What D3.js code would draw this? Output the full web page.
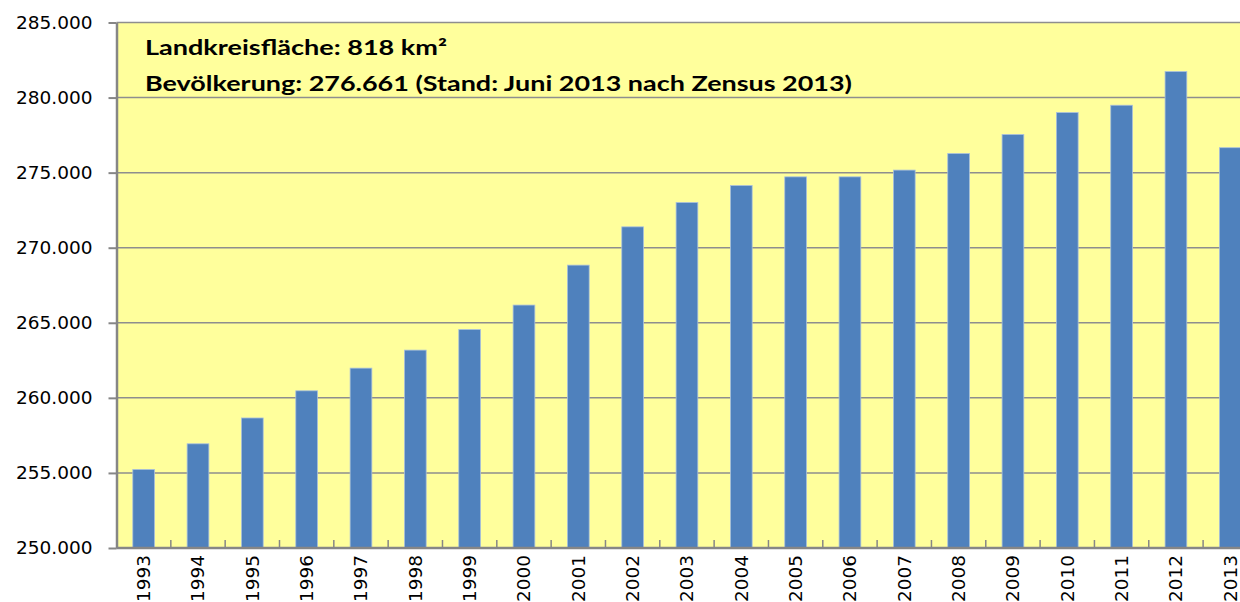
<!DOCTYPE html>
<html>
<head>
<meta charset="utf-8">
<script src="https://cdn.jsdelivr.net/npm/d3@7"></script>
<style>
  body { margin: 0; background: #fff; }
  svg { display: block; }
</style>
</head>
<body>
<svg id="chart"></svg>
<script>
// population by year
const years = ['1993', '1994', '1995', '1996', '1997', '1998', '1999', '2000', '2001', '2002', '2003',
    '2004', '2005', '2006', '2007', '2008', '2009', '2010', '2011', '2012', '2013'];
const population = [255230, 256940, 258660, 260470, 261980, 263180, 264550, 266180, 268840, 271390,
    273010, 274140, 274720, 274720, 275170, 276270, 277540, 279000, 279490, 281730, 276661];
const yTicks = [250000, 255000, 260000, 265000, 270000, 275000, 280000, 285000];
const infoLines = ['Landkreisfläche: 818 km²', 'Bevölkerung: 276.661 (Stand: Juni 2013 nach Zensus 2013)'];

const width = 1240, height = 602;
const margin = { top: 22.5, left: 116.5, bottom: 54 };
// plot area is wider than the picture, the last category gets cut off at the right
const plotRight = margin.left + years.length * 54.33;

const svg = d3.select('#chart')
    .attr('width', width)
    .attr('height', height);

const xScale = d3.scaleBand()
    .domain(years)
    .range([margin.left, plotRight])
    .paddingInner(0.6)
    .paddingOuter(0.3);

const yScale = d3.scaleLinear()
    .domain([250000, 285000])
    .range([height - margin.bottom, margin.top]);

const fmt = d => d3.format(',')(d).replace(/,/g, '.');

// plot background
svg.append('rect')
    .attr('x', margin.left)
    .attr('y', yScale(285000))
    .attr('width', plotRight - margin.left)
    .attr('height', yScale(250000) - yScale(285000))
    .attr('fill', '#ffff9c');

// grid lines
svg.append('g')
    .selectAll('line')
    .data(yTicks)
    .enter()
    .append('line')
    .attr('x1', margin.left)
    .attr('x2', plotRight)
    .attr('y1', d => yScale(d))
    .attr('y2', d => yScale(d))
    .attr('stroke', '#8e8e8e')
    .attr('stroke-width', 1.5);

// bars
svg.append('g')
    .selectAll('rect')
    .data(years.map((y, i) => [y, population[i]]))
    .enter()
    .append('rect')
    .attr('x', d => xScale(d[0]))
    .attr('y', d => yScale(d[1]))
    .attr('width', xScale.bandwidth())
    .attr('height', d => yScale(250000) - yScale(d[1]))
    .attr('fill', '#4f81bd')
    .attr('stroke', '#a9c0dc')
    .attr('stroke-width', 0.8);

// y axis
const yAxis = d3.axisLeft(yScale)
    .tickValues(yTicks)
    .tickFormat(fmt)
    .tickSizeInner(8)
    .tickSizeOuter(0)
    .tickPadding(16);

const yAxisGroup = svg.append('g')
    .attr('transform', `translate(${margin.left}, 0)`)
    .call(yAxis);
yAxisGroup.select('.domain').attr('stroke', '#868686').attr('stroke-width', 2.5);
yAxisGroup.selectAll('.tick line').attr('stroke', '#868686').attr('stroke-width', 2);
yAxisGroup.selectAll('.tick text')
    .attr('font-family', 'DejaVu Sans')
    .attr('font-size', 18.5)
    .attr('fill', '#000');

// x axis: ticks sit between categories and point up into the plot
const xAxisY = yScale(250000);
svg.append('line')
    .attr('x1', margin.left)
    .attr('x2', plotRight)
    .attr('y1', xAxisY)
    .attr('y2', xAxisY)
    .attr('stroke', '#868686')
    .attr('stroke-width', 2.5);

svg.append('g')
    .selectAll('line')
    .data(years.slice(1))
    .enter()
    .append('line')
    .attr('x1', d => xScale(d) - xScale.step() * 0.3)
    .attr('x2', d => xScale(d) - xScale.step() * 0.3)
    .attr('y1', xAxisY)
    .attr('y2', xAxisY - 8)
    .attr('stroke', '#868686')
    .attr('stroke-width', 1.5);

svg.append('g')
    .selectAll('text')
    .data(years)
    .enter()
    .append('text')
    .attr('transform', d => `translate(${xScale(d) + xScale.bandwidth() / 2}, ${xAxisY + 7}) rotate(-90)`)
    .attr('text-anchor', 'end')
    .attr('dy', '0.35em')
    .attr('font-family', 'DejaVu Sans')
    .attr('font-size', 18.5)
    .attr('fill', '#000')
    .text(d => d);

// info text in the top left corner
svg.append('g')
    .selectAll('text')
    .data(infoLines)
    .enter()
    .append('text')
    .attr('x', 145)
    .attr('y', (d, i) => 54.5 + i * 36.5)
    .attr('font-family', 'Lato')
    .attr('font-weight', 'bold')
    .attr('font-size', 20.5)
    .attr('fill', '#000')
    .attr('textLength', (d, i) => i === 0 ? 302 : 707)
    .attr('lengthAdjust', 'spacingAndGlyphs')
    .text(d => d);
</script>
</body>
</html>
